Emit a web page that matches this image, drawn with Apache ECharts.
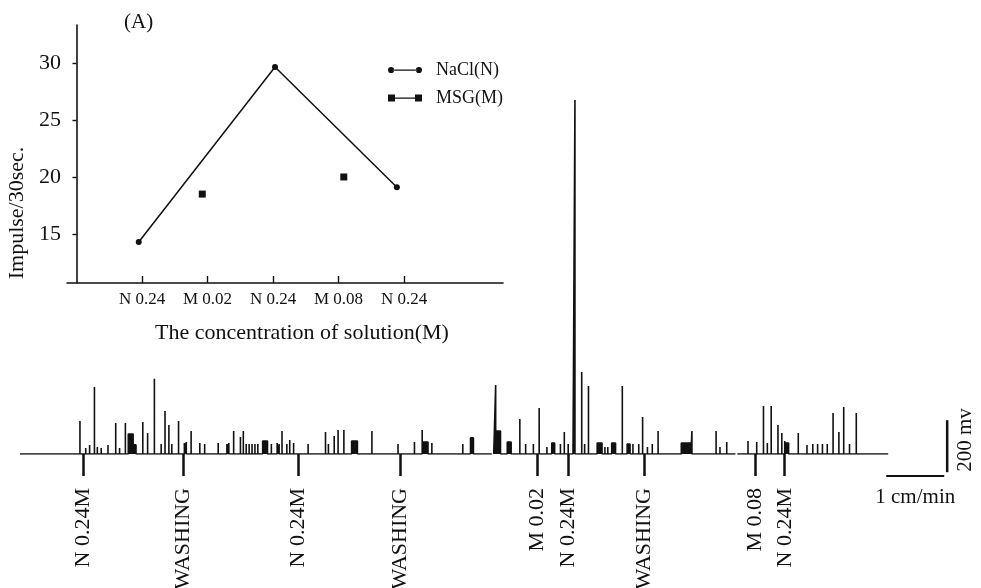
<!DOCTYPE html>
<html>
<head>
<meta charset="utf-8">
<script src="https://cdn.jsdelivr.net/npm/echarts@6/dist/echarts.min.js"></script>
<style>
  html, body { margin: 0; padding: 0; background: #fff; }
  #chart { width: 981px; height: 588px; }
</style>
</head>
<body>
<div id="chart"></div>
<script>
// panel (A): impulses per 30 s for each solution
var condPos = [1, 2, 3, 4, 5];
var condLabels = ['N 0.24', 'M 0.02', 'N 0.24', 'M 0.08', 'N 0.24'];
var impulseTicks = [15, 20, 25, 30];
var naclX = [0.95, 3.03, 4.89];
var naclY = [14.3, 29.65, 19.1];
var msgX = [1.92, 4.08];
var msgY = [18.5, 20.0];

// nerve recording: time in s, spike height in mV
var segments = [[0, 488], [490, 740], [742, 898]];
var spikes = [
  [62,127],[68,23],[72,35],[77,258],[80,27],[84,23],[91,35],[99,119],[103,23],[109,119],
  [127,123],[132,81],[139,289],[146,38],[150,165],[154,112],[157,38],[164,127],[170,42],[172,46],
  [177,88],[186,42],[191,38],[205,42],[214,38],[216,42],[221,88],[228,65],[231,88],[234,38],
  [237,38],[240,38],[243,38],[246,38],[260,38],[266,42],[268,38],[271,88],[276,38],[279,54],
  [283,42],[298,38],[316,85],[319,38],[325,69],[329,92],[335,92],[364,88],[391,38],[408,46],
  [416,92],[426,42],[458,38],
  [492,265],[517,135],[523,38],[531,38],[537,177],[545,27],[559,38],[563,85],[567,38],[572,38],
  [574,1362],[581,315],[584,38],[588,262],[605,27],[608,27],[623,262],[634,38],[640,38],[644,142],
  [649,27],[654,38],[660,88],[695,88],[720,88],[724,27],[731,46],
  [753,50],[762,46],[769,185],[773,42],[777,185],[784,112],[788,81],[791,50],[805,81],[814,35],
  [820,38],[825,38],[830,38],[835,38],[841,158],[847,85],[852,181],[858,38],[865,158]
];
var bursts = [
  [112,117,77],[117,120,35],[251,256,50],[343,349,50],[417,422,46],[466,469,62],
  [493,497,88],[504,508,46],[550,553,42],[597,602,42],[612,616,42],[628,631,38],[684,694,42],
  [792,795,42]
];
var markerTimes = [65, 169, 288, 393, 535, 567, 646, 760, 791];
var markerNames = ['N 0.24M', 'WASHING', 'N 0.24M', 'WASHING', 'M 0.02', 'N 0.24M', 'WASHING', 'M 0.08', 'N 0.24M'];
var scaleSeconds = 60;
var scaleMv = 200;

function buildTrace() {
  var out = [];
  segments.forEach(function (seg) {
    var ev = [];
    spikes.forEach(function (s) { if (s[0] >= seg[0] && s[0] <= seg[1]) ev.push([s[0], s[0], s[1]]); });
    bursts.forEach(function (b) { if (b[0] >= seg[0] && b[0] <= seg[1]) ev.push(b); });
    ev.sort(function (a, b) { return a[0] - b[0]; });
    out.push([seg[0], 0]);
    ev.forEach(function (e) {
      out.push([e[0], 0], [e[0], e[2]], [e[1], e[2]], [e[1], 0]);
    });
    out.push([seg[1], 0]);
    out.push(null);
  });
  return out;
}

var serif = 'Liberation Serif';
var ink = '#111';
var chart = echarts.init(document.getElementById('chart'));

var option = {
  backgroundColor: '#fff',
  animation: false,
  title: {
    text: '(A)', left: 119, top: 7,
    textStyle: { fontFamily: serif, fontSize: 21, fontWeight: 'normal', color: ink }
  },
  legend: {
    left: 383, top: 56, orient: 'vertical', itemGap: 10,
    itemWidth: 34, itemHeight: 7,
    textStyle: { fontFamily: serif, fontSize: 18, color: ink, lineHeight: 18, padding: [0, 0, 0, 9] },
    data: [
      { name: 'NaCl(N)', icon: 'path://M0.5,3.5a3,3 0 1,0 6,0a3,3 0 1,0 -6,0z M6,3h22v1.3h-22z M27.5,3.5a3,3 0 1,0 6,0a3,3 0 1,0 -6,0z' },
      { name: 'MSG(M)', icon: 'path://M0,0h7v7h-7z M7,3h20v1.3h-20z M27,0h7v7h-7z' }
    ]
  },
  grid: [
    { left: 67, right: 478, top: 25, bottom: 305, outerBoundsMode: 'none' },
    { left: 20, right: 0, top: 90, bottom: 134, outerBoundsMode: 'none' }
  ],
  xAxis: [
    {
      gridIndex: 0, type: 'value', min: -0.145, max: 6.51,
      name: 'The concentration of solution(M)', nameLocation: 'middle', nameGap: 39,
      nameTextStyle: { fontFamily: serif, fontSize: 22, color: ink, padding: [0, 0, 0, 34] },
      axisLine: { show: true, lineStyle: { color: ink, width: 1.6 } },
      axisTick: { show: true, inside: true, length: 7, customValues: condPos, lineStyle: { color: ink, width: 1.4 } },
      axisLabel: {
        customValues: condPos, margin: 8, fontFamily: serif, fontSize: 17, color: ink,
        formatter: function (v) { return condLabels[condPos.indexOf(v)] || ''; }
      },
      splitLine: { show: false }
    },
    {
      gridIndex: 1, type: 'value', min: 0, max: 994,
      axisLine: { show: false },
      axisTick: { show: true, length: 22, customValues: markerTimes, lineStyle: { color: ink, width: 2.5 } },
      axisLabel: {
        customValues: markerTimes, rotate: 90, margin: 34, hideOverlap: false,
        fontFamily: serif, fontSize: 22, color: ink,
        formatter: function (v) { return markerNames[markerTimes.indexOf(v)] || ''; }
      },
      splitLine: { show: false }
    }
  ],
  yAxis: [
    {
      gridIndex: 0, type: 'value', min: 10.7, max: 33.33,
      axisLine: { show: true, lineStyle: { color: ink, width: 1.6 } },
      axisTick: { show: true, length: 4, customValues: impulseTicks, lineStyle: { color: ink, width: 1.4 } },
      axisLabel: { customValues: impulseTicks, margin: 6, fontFamily: serif, fontSize: 22, color: ink },
      splitLine: { show: false }
    },
    {
      gridIndex: 1, type: 'value', min: 0, max: 1400, show: false,
      splitLine: { show: false }
    }
  ],
  series: [
    {
      name: 'NaCl(N)', type: 'line', xAxisIndex: 0, yAxisIndex: 0,
      data: naclX.map(function (x, i) { return [x, naclY[i]]; }),
      symbol: 'circle', symbolSize: 6, color: ink,
      lineStyle: { color: ink, width: 1.5 }, itemStyle: { color: ink, opacity: 1 }
    },
    {
      name: 'MSG(M)', type: 'scatter', xAxisIndex: 0, yAxisIndex: 0,
      data: msgX.map(function (x, i) { return [x, msgY[i]]; }),
      symbol: 'rect', symbolSize: 7, color: ink, itemStyle: { color: ink, opacity: 1 }
    },
    {
      name: 'trace', type: 'line', xAxisIndex: 1, yAxisIndex: 1,
      data: buildTrace(), symbol: 'none', connectNulls: false,
      lineStyle: { color: ink, width: 1.6 },
      areaStyle: { color: ink, opacity: 1, origin: 'start' }
    }
  ]
};
chart.setOption(option);

// scale bars placed through the recording axes
var h0 = chart.convertToPixel({ gridIndex: 1 }, [896, -85]);
var h1 = chart.convertToPixel({ gridIndex: 1 }, [896 + scaleSeconds, -85]);
var v0 = chart.convertToPixel({ gridIndex: 1 }, [959, -70]);
var v1 = chart.convertToPixel({ gridIndex: 1 }, [959, -70 + scaleMv]);

chart.setOption({
  graphic: [
    { type: 'text', x: 17, y: 213, rotation: Math.PI / 2,
      style: { text: 'Impulse/30sec.', fill: ink, font: '22px "Liberation Serif"', align: 'center', verticalAlign: 'middle' } },
    { type: 'line', shape: { x1: h0[0], y1: h0[1], x2: h1[0], y2: h1[1] }, style: { stroke: ink, lineWidth: 2 } },
    { type: 'line', shape: { x1: v0[0], y1: v0[1], x2: v1[0], y2: v1[1] }, style: { stroke: ink, lineWidth: 2.5 } },
    { type: 'text', x: (h0[0] + h1[0]) / 2, y: 497,
      style: { text: '1 cm/min', fill: ink, font: '21px "Liberation Serif"', align: 'center', verticalAlign: 'middle' } },
    { type: 'text', x: 965, y: 440, rotation: Math.PI / 2,
      style: { text: '200 mv', fill: ink, font: '21px "Liberation Serif"', align: 'center', verticalAlign: 'middle' } }
  ]
});
</script>
</body>
</html>
